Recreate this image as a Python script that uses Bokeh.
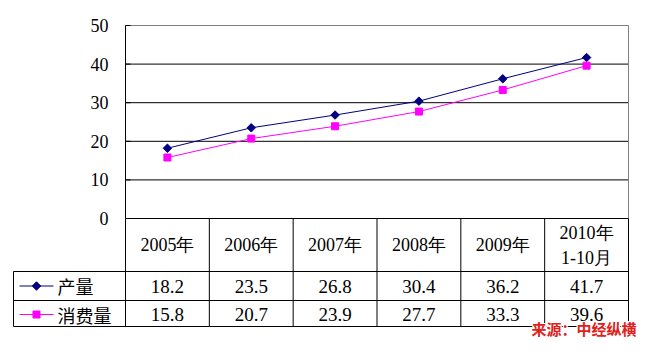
import math
from bokeh.plotting import figure
from bokeh.models import Range1d
from bokeh.core.properties import value
from bokeh.embed import file_html
from bokeh.resources import INLINE

# ---------------- data ----------------
categories = ["2005年", "2006年", "2007年", "2008年", "2009年", "2010年\n1-10月"]
series_names = ["产量", "消费量"]
production = [18.2, 23.5, 26.8, 30.4, 36.2, 41.7]
consumption = [15.8, 20.7, 23.9, 27.7, 33.3, 39.6]
y_ticks = [0, 10, 20, 30, 40, 50]
source_note = "来源：中经纵横"

# ---------------- layout (pixels in figure) ----------------
W, H = 640, 339
PL, PR = 125, 628          # plot area left/right
PT, P0 = 25, 218           # y=50 and y=0 pixel rows
HDR_B, R1_B, R2_B = 271, 300, 326
LEG_L = 13
YMAX = 50

ncat = len(categories)
colw = (PR - PL) / ncat
k = (P0 - PT) / YMAX
xs = -0.5 - PL / colw
xe = xs + W / colw
ye = P0 / k
ys = ye - H / k


def px(fx):
    return xs + fx / colw


def py(fy):
    return ye - fy / k


NUM_FONT = value("Times New Roman")
CJK_FONT = value("Noto Sans CJK SC")
NAVY = "#000080"
MAGENTA = "#FF00FF"
GRAY = "#808080"

p = figure(width=W, height=H, output_backend="svg", toolbar_location=None,
           x_range=Range1d(xs, xe), y_range=Range1d(ys, ye),
           x_axis_location=None, y_axis_location=None,
           min_border=0, min_border_left=0, min_border_right=0,
           min_border_top=0, min_border_bottom=0)
p.outline_line_color = None
p.grid.visible = False
p.background_fill_color = "white"
p.border_fill_color = "white"

xl, xr = -0.5, ncat - 0.5

# gridlines
grid_y = [t for t in y_ticks if 0 < t < YMAX]
p.segment(x0=[xl] * len(grid_y), x1=[xr] * len(grid_y), y0=grid_y, y1=grid_y,
          line_color="black", line_width=1)
# plot area border: top and right gray
p.segment(x0=[xl, xr], x1=[xr, xr], y0=[YMAX, YMAX], y1=[YMAX, 0],
          line_color=GRAY, line_width=1)
# small tick marks on the axis
p.segment(x0=[xl] * len(y_ticks), x1=[px(PL + 5)] * len(y_ticks), y0=y_ticks, y1=y_ticks,
          line_color="black", line_width=1)

# table horizontal lines
p.segment(x0=[xl, px(LEG_L), px(LEG_L), px(LEG_L)], x1=[xr] * 4,
          y0=[0, py(HDR_B), py(R1_B), py(R2_B)], y1=[0, py(HDR_B), py(R1_B), py(R2_B)],
          line_color="black", line_width=1)
# table vertical lines + y axis line
vx = [xl + i for i in range(ncat + 1)]
p.segment(x0=vx, x1=vx, y0=[0] * len(vx), y1=[py(R2_B)] * len(vx),
          line_color="black", line_width=1)
p.segment(x0=[xl], x1=[xl], y0=[YMAX], y1=[0], line_color="black", line_width=1)
p.segment(x0=[px(LEG_L)], x1=[px(LEG_L)], y0=[py(HDR_B)], y1=[py(R2_B)],
          line_color="black", line_width=1)

# y tick labels
p.text(x=[px(108)] * len(y_ticks), y=y_ticks, text=[str(t) for t in y_ticks],
       text_align="right", text_baseline="middle", text_font=NUM_FONT,
       text_font_size="18px", text_color="black")

# header labels
hx, hy, ht = [], [], []
hdr_mid = (P0 + HDR_B) / 2
for i, c in enumerate(categories):
    lines = c.split("\n")
    n = len(lines)
    for j, ln in enumerate(lines):
        hx.append(i)
        hy.append(py(hdr_mid + (j - (n - 1) / 2) * 25))
        ht.append(ln)
p.text(x=hx, y=hy, text=ht, text_align="center", text_baseline="middle",
       text_font=NUM_FONT, text_font_size="18px", text_color="black")

# rows
rows = [(production, NAVY, "diamond", (HDR_B + R1_B) / 2),
        (consumption, MAGENTA, "square", (R1_B + R2_B) / 2 + 1)]
for (vals, col, mk, rmid), name in zip(rows, series_names):
    p.text(x=list(range(ncat)), y=[py(rmid)] * ncat, text=[f"{v:.1f}" for v in vals],
           text_align="center", text_baseline="middle", text_font=NUM_FONT,
           text_font_size="19px", text_color="black")
    # legend key
    p.line(x=[px(19), px(53)], y=[py(rmid), py(rmid)], line_color=col, line_width=1)
    if mk == "diamond":
        p.scatter(x=[px(36)], y=[py(rmid)], marker="square", angle=math.pi / 4,
                  size=6, fill_color=col, line_color=col)
    else:
        p.scatter(x=[px(36)], y=[py(rmid)], marker="square", size=7,
                  fill_color=col, line_color=col)
    p.text(x=[px(57)], y=[py(rmid)], text=[name], text_align="left",
           text_baseline="middle", text_font=CJK_FONT, text_font_size="18px",
           text_color="black")

# data series
xi = list(range(ncat))
p.line(x=xi, y=production, line_color=NAVY, line_width=1)
p.scatter(x=xi, y=production, marker="square", angle=math.pi / 4, size=6,
          fill_color=NAVY, line_color=NAVY)
p.line(x=xi, y=consumption, line_color=MAGENTA, line_width=1)
p.scatter(x=xi, y=consumption, marker="square", size=7,
          fill_color=MAGENTA, line_color=MAGENTA)

# source note with white outline
nx, ny = px(636), py(328)
for dx, dy in [(-1, -1), (-1, 0), (-1, 1), (0, -1), (0, 1), (1, -1), (1, 0), (1, 1)]:
    p.text(x=[nx], y=[ny], text=[source_note], x_offset=dx, y_offset=dy,
           text_align="right", text_baseline="middle", text_font=CJK_FONT,
           text_font_size="15px", text_font_style="bold", text_color="white")
p.text(x=[nx], y=[ny], text=[source_note], text_align="right", text_baseline="middle",
       text_font=CJK_FONT, text_font_size="15px", text_font_style="bold",
       text_color="#E0201B")

open("out.html", "w").write(file_html(p, INLINE))
